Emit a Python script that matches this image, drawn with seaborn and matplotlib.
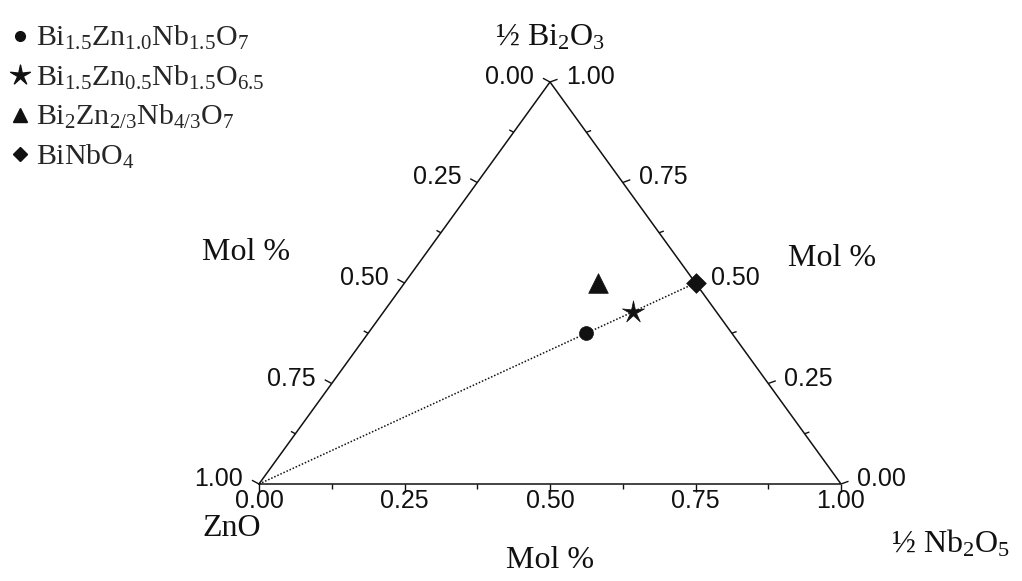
import matplotlib
matplotlib.use("Agg")
import matplotlib.pyplot as plt
from matplotlib.path import Path
from matplotlib.lines import Line2D
import pandas as pd
import seaborn as sns

# Phases in the Bi2O3-ZnO-Nb2O5 system, as mole fractions of
# 1/2 Bi2O3, ZnO and 1/2 Nb2O5
compounds = [
    r"Bi$_{\mathrm{1.5}}$Zn$_{\mathrm{1.0}}$Nb$_{\mathrm{1.5}}$O$_{\mathrm{7}}$",
    r"Bi$_{\mathrm{1.5}}$Zn$_{\mathrm{0.5}}$Nb$_{\mathrm{1.5}}$O$_{\mathrm{6.5}}$",
    r"Bi$_{\mathrm{2}}$Zn$_{\mathrm{2/3}}$Nb$_{\mathrm{4/3}}$O$_{\mathrm{7}}$",
    r"BiNbO$_{\mathrm{4}}$",
]
frac_bi = [0.375, 0.4286, 0.5, 0.5]
frac_zn = [0.25, 0.1429, 0.1667, 0.0]
frac_nb = [0.375, 0.4286, 0.3333, 0.5]

# ZnO - BiNbO4 join
join_bi = [0.0, 0.5]
join_nb = [0.0, 0.5]

major_ticks = [0.0, 0.25, 0.5, 0.75, 1.0]
major_labels = ["0.00", "0.25", "0.50", "0.75", "1.00"]
minor_ticks = [0.125, 0.375, 0.625, 0.875]

vertex_labels = [r"½ Bi$_{\mathrm{2}}$O$_{\mathrm{3}}$", "ZnO",
                 r"½ Nb$_{\mathrm{2}}$O$_{\mathrm{5}}$"]
axis_title = "Mol %"

sns.set_theme(style="white")
plt.rcParams["font.family"] = ["Liberation Sans", "DejaVu Sans"]
plt.rcParams["mathtext.fontset"] = "custom"
plt.rcParams["mathtext.rm"] = "Liberation Serif"
plt.rcParams["mathtext.it"] = "Liberation Serif:italic"
plt.rcParams["mathtext.bf"] = "Liberation Serif:bold"

SERIF = ["Liberation Serif", "DejaVu Serif"]
DPI = 100
W_PX, H_PX = 582, 402  # triangle width / height in pixels


def pt(px):
    return px * 72.0 / DPI


def proj(bi, nb):
    """Ternary -> cartesian (x along the base, y towards the Bi2O3 apex)."""
    return nb + bi / 2.0, bi


fig = plt.figure(figsize=(10.22, 5.81), dpi=DPI)
fig.patch.set_facecolor("white")
ax = fig.add_axes([259 / 1022, 97 / 581, W_PX / 1022, H_PX / 581])
ax.set_xlim(0, 1)
ax.set_ylim(0, 1)
ax.axis("off")

# triangle frame
fx, fy = zip(*[proj(0, 0), proj(0, 1), proj(1, 0), proj(0, 0)])
ax.plot(fx, fy, color="#111111", lw=1.1, clip_on=False, solid_joinstyle="miter")


# ticks: left axis = ZnO, right axis = 1/2 Bi2O3, bottom axis = 1/2 Nb2O5
def tick_point(side, v):
    if side == "left":
        return proj(1 - v, 0)
    if side == "right":
        return proj(v, 1 - v)
    return proj(0, v)


tick_dir = {"left": (-0.88, 0.47), "right": (0.94, 0.34), "bottom": (0.0, -1.0)}
for side, (ux, uy) in tick_dir.items():
    for vals, length in ((major_ticks, 8), (minor_ticks, 5)):
        for v in vals:
            x0, y0 = tick_point(side, v)
            ax.plot([x0, x0 + length * ux / W_PX], [y0, y0 + length * uy / H_PX],
                    color="#111111", lw=1.0, clip_on=False, solid_capstyle="butt")

tick_font = dict(fontsize=18, family=["Liberation Sans", "DejaVu Sans"], color="#111111")
for v, lab in zip(major_ticks, major_labels):
    ax.annotate(lab, tick_point("left", v), xytext=(pt(-16), pt(5)),
                textcoords="offset points", ha="right", va="center", **tick_font)
    ax.annotate(lab, tick_point("right", v), xytext=(pt(16), pt(5)),
                textcoords="offset points", ha="left", va="center", **tick_font)
    ax.annotate(lab, tick_point("bottom", v), xytext=(0, pt(-17)),
                textcoords="offset points", ha="center", va="center", **tick_font)

# vertex and axis titles
big = dict(fontsize=23, family=SERIF, color="#111111", ha="center", va="center",
           textcoords="offset points")
ax.annotate(vertex_labels[0], proj(1, 0), xytext=(0, pt(44)), **big)
ax.annotate(vertex_labels[1], proj(0, 0), xytext=(pt(-27), pt(-44)), **big)
ax.annotate(vertex_labels[2], proj(0, 1), xytext=(pt(109), pt(-60)), **big)
ax.annotate(axis_title, proj(0, 0.5), xytext=(0, pt(-76)), **big)
ax.annotate(axis_title, proj(0.575, 0), xytext=(pt(-180), 0), **big)
ax.annotate(axis_title, proj(0.565, 0.435), xytext=(pt(155), pt(-2)), **big)

# ZnO - BiNbO4 join
jx, jy = zip(*[proj(b, n) for b, n in zip(join_bi, join_nb)])
sns.lineplot(x=list(jx), y=list(jy), ax=ax, color="#111111", lw=1.1,
             dashes=False, estimator=None, sort=False, clip_on=False)
ax.lines[-1].set_linestyle((0, (1.0, 1.2)))

# phases
star = Path.unit_regular_star(5, innerCircle=0.28)
markers = ["o", star, "^", "D"]
sizes = [100, 280, 200, 100]
px_, py_ = zip(*[proj(b, n) for b, n in zip(frac_bi, frac_nb)])
df = pd.DataFrame({"x": px_, "y": py_, "phase": compounds})
for i, row in df.iterrows():
    sns.scatterplot(x=[row.x], y=[row.y], ax=ax, marker=markers[i], s=sizes[i],
                    color="#111111", edgecolor="#111111", linewidth=0.5,
                    legend=False, clip_on=False, zorder=5)

handles = [
    Line2D([], [], ls="none", marker="o", ms=7, color="#111111"),
    Line2D([], [], ls="none", marker=star, ms=15, color="#111111"),
    Line2D([], [], ls="none", marker="^", ms=10, color="#111111"),
    Line2D([], [], ls="none", marker="D", ms=7, color="#111111"),
]
fig.legend(handles, compounds, loc="upper left",
           bbox_to_anchor=(8 / 1022, 1 - 24 / 581),
           frameon=False, prop={"family": SERIF, "size": 21.5},
           handlelength=0.8, handletextpad=0.15, labelspacing=0.38,
           borderaxespad=0.0, borderpad=0.0)

fig.savefig("out.png", dpi=DPI, facecolor="white")
